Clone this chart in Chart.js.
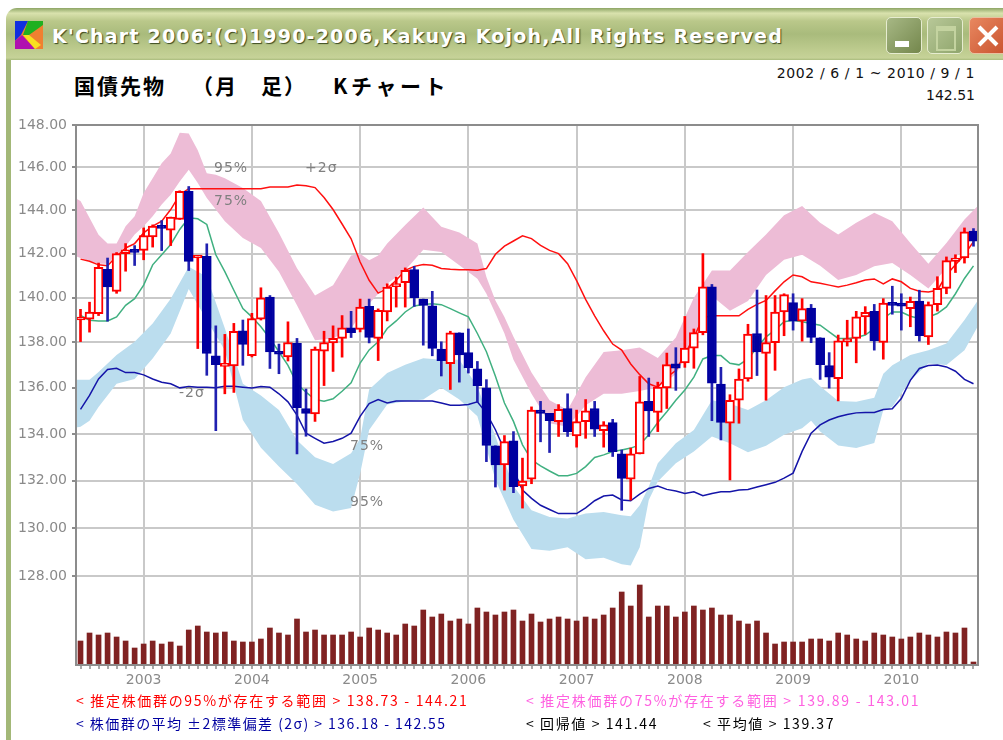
<!DOCTYPE html>
<html>
<head>
<meta charset="utf-8">
<title>K'Chart 2006</title>
<script src="https://cdn.jsdelivr.net/npm/chart.js@4"></script>
<style>
  html, body { margin: 0; padding: 0; background: #fff; }
  #page { position: relative; width: 1003px; height: 740px; overflow: hidden; font-family: "Noto Sans CJK JP", "Noto Sans", sans-serif; }
  #page div { position: absolute; white-space: pre; }
  #candleChart { position: absolute; left: 0; top: 0; }
  #bar { left: 6px; top: 8px; width: 997px; height: 52px; border-top-left-radius: 11px;
    background: linear-gradient(#8da565 0, #d9e2ad 10%, #bac88a 25%, #a9bb7c 50%, #bdcb8e 80%, #c6d298 96%, #a9bb7c 100%); }
  #side { left: 6px; top: 60px; width: 5px; height: 680px; background: #a3b878; }
  #bartext { left: 52px; top: 25px; font: bold 19px "DejaVu Sans", sans-serif; letter-spacing: 1.2px; color: #fff; text-shadow: 1px 1px 1px #3c4a20; }
  .btn { top: 17px; height: 35px; width: 34px; border: 1px solid #e6ecd0; border-radius: 5px; }
  #icon { left: 15px; top: 21px; }
  .head { top: 70px; font-weight: bold; font-size: 21px; letter-spacing: 2px; line-height: 30px; color: #000; }
  .range { right: 28px; font: 14px "DejaVu Sans", sans-serif; color: #111; }
  .note { font: 14px "DejaVu Sans", sans-serif; color: #808080; letter-spacing: 1px; }
  .legend { font-size: 14px; letter-spacing: 1.5px; line-height: 20px; }
</style>
</head>
<body>
<div id="page">
  <div id="bar"></div>
  <div id="side"></div>
  <svg id="icon" style="position:absolute" width="28" height="28" viewBox="0 0 28 28">
    <rect width="28" height="28" fill="#f08030"/>
    <polygon points="0,0 13,0 6,14 0,20" fill="#1030e0"/>
    <polygon points="13,0 28,0 28,4 14,14 8,14" fill="#20b020"/>
    <polygon points="0,20 7,14 20,28 0,28" fill="#b010b0"/>
    <polygon points="8,14 14,14 26,24 20,28" fill="#f8e020"/>
  </svg>
  <div id="bartext">K'Chart 2006:(C)1990-2006,Kakuya Kojoh,All Rights Reserved</div>
  <div class="btn" style="left:886px;background:linear-gradient(135deg,#a7b885,#74874c)"></div>
  <div style="left:895px;top:41px;width:14px;height:6px;background:#fff"></div>
  <div class="btn" style="left:927px;background:linear-gradient(135deg,#b8c898,#8fa56c)"></div>
  <div style="left:936px;top:26px;width:16px;height:18px;border:2px solid #c4d3a0;border-top-width:5px"></div>
  <div class="btn" style="left:969px;width:40px;border-color:#e8c0a0;background:linear-gradient(135deg,#e88860,#c8502c)"></div>
  <svg style="position:absolute;left:976px;top:24px" width="24" height="24"><path d="M3 3 L21 21 M21 3 L3 21" stroke="#fff" stroke-width="4"/></svg>

  <div class="head" style="left:74px">国債先物</div>
  <div class="head" style="left:192px">（月</div>
  <div class="head" style="left:261px">足）</div>
  <div class="head" style="left:333px;letter-spacing:3.6px">Kチャート</div>
  <div class="range" style="top:65px;letter-spacing:0.6px">2002 / 6 / 1 ~ 2010 / 9 / 1</div>
  <div class="range" style="top:87px">142.51</div>

  <canvas id="candleChart" width="1003" height="740"></canvas>

  <div class="note" style="left:214px;top:159px">95%</div>
  <div class="note" style="left:214px;top:192px">75%</div>
  <div class="note" style="left:305px;top:159px">+2σ</div>
  <div class="note" style="left:179px;top:384px">-2σ</div>
  <div class="note" style="left:350px;top:437px">75%</div>
  <div class="note" style="left:350px;top:493px">95%</div>

  <div class="legend" style="left:76px;top:690px;color:#ff0000;letter-spacing:1.68px">&lt; 推定株価群の95%が存在する範囲 &gt; 138.73 - 144.21</div>
  <div class="legend" style="left:526px;top:690px;color:#ff60e0;letter-spacing:1.73px">&lt; 推定株価群の75%が存在する範囲 &gt; 139.89 - 143.01</div>
  <div class="legend" style="left:76px;top:713px;color:#0000a0;letter-spacing:1.45px">&lt; 株価群の平均 ±2標準偏差 (2σ) &gt; 136.18 - 142.55</div>
  <div class="legend" style="left:526px;top:713px;color:#000;letter-spacing:1.6px">&lt; 回帰値 &gt; 141.44</div>
  <div class="legend" style="left:703px;top:713px;color:#000;letter-spacing:1.6px">&lt; 平均値 &gt; 139.37</div>
</div>

<script>
'use strict';

// 2002/6 から 2010/9 までの月足 (100本)
const months = [];
for (let y = 2002, m = 6; y < 2010 || m <= 9; m++) {
  if (m > 12) { y++; m = 1; }
  months.push(y + '/' + m);
}

const yTickValues = [148, 146, 144, 142, 140, 138, 136, 134, 132, 130, 128];

// ローソク足
const opens = [139.00,139.04,139.29,141.29,140.29,142.00,142.10,142.15,142.77,143.20,143.08,143.57,144.88,141.80,141.88,137.41,136.94,136.96,138.52,137.42,
  139.04,140.03,137.52,137.36,137.96,135.10,134.86,137.62,137.98,138.18,138.65,138.58,139.61,138.18,139.36,140.50,140.68,141.27,139.94,139.64,
  137.71,137.06,138.43,137.55,136.84,136.00,133.49,132.67,133.70,131.78,132.06,135.03,134.89,134.53,135.10,133.91,134.53,135.10,134.14,134.49,
  133.14,132.06,133.14,135.41,134.93,136.00,137.05,137.09,137.75,138.44,140.49,136.17,134.46,135.46,136.39,138.40,137.52,137.99,139.36,139.78,
  138.95,139.54,138.21,136.98,136.40,138.04,138.18,139.14,139.39,138.00,139.72,139.75,139.51,139.85,138.25,139.69,140.42,141.65,141.80,143.03];
const closes = [139.05,139.36,141.38,140.49,142.00,142.18,142.06,142.83,143.26,143.16,143.68,144.88,141.65,141.85,137.51,137.02,136.98,138.50,137.91,139.07,
  140.00,137.58,137.48,138.00,135.14,134.89,137.71,138.00,138.18,138.65,138.44,139.58,138.22,139.43,140.48,140.63,141.24,140.00,139.65,137.74,
  137.19,138.43,137.45,136.87,136.10,133.50,132.67,133.67,131.74,131.98,135.03,134.89,134.57,135.06,134.10,134.53,135.00,134.20,134.39,133.24,
  132.10,133.14,135.39,134.99,136.03,137.02,136.86,137.75,138.44,140.49,136.21,134.50,135.46,136.39,138.37,137.58,137.99,139.36,140.14,138.95,
  139.51,138.22,137.02,136.47,138.07,138.15,139.14,139.35,138.07,139.76,139.66,139.62,139.84,138.30,139.69,140.42,141.68,141.80,143.00,142.57];
const highs = [139.48,139.80,141.57,141.80,142.05,142.46,142.37,143.18,143.32,143.52,143.68,144.90,145.10,141.90,142.45,138.74,138.36,138.85,139.00,139.30,
  140.45,140.10,137.93,138.92,138.18,135.95,137.80,138.50,138.74,139.20,139.39,139.94,139.94,139.50,140.63,140.93,141.35,141.42,139.94,140.29,
  138.03,138.50,138.43,138.60,137.16,136.36,133.49,133.93,134.10,132.96,135.17,135.41,134.89,135.27,135.74,135.03,135.49,135.41,134.53,134.63,
  133.31,133.39,136.50,136.43,136.25,137.53,137.77,139.16,138.60,142.00,140.60,136.90,135.70,136.83,138.81,140.35,140.10,140.10,140.18,140.18,
  139.96,139.70,138.21,137.55,138.33,138.99,139.39,139.60,139.70,139.96,140.52,140.18,140.03,140.34,139.81,140.95,141.85,141.95,143.18,143.15];
const lows = [138.04,138.46,139.20,138.95,140.20,141.20,141.46,141.72,142.30,142.14,142.37,143.57,141.23,137.73,136.55,134.14,135.74,135.80,136.99,137.36,
  139.00,136.85,136.62,137.18,133.14,133.90,134.54,136.10,136.72,137.35,138.22,138.47,137.98,137.20,138.96,139.58,139.58,139.61,137.88,137.41,
  136.52,135.93,136.25,136.65,135.37,132.81,131.73,131.60,131.49,130.84,131.87,133.66,133.20,133.89,133.89,133.43,133.81,133.89,133.43,133.03,
  130.75,131.18,133.14,133.89,134.10,135.10,135.89,136.90,136.86,138.34,134.57,133.74,132.03,134.46,136.29,136.54,135.46,136.77,138.30,138.55,
  138.06,137.99,136.37,135.99,135.43,137.84,137.10,138.36,137.66,137.26,139.26,138.55,138.70,138.06,137.91,139.40,140.18,141.14,141.57,142.34];

// 回帰値 (緑)
const regression = [139.21,138.99,138.96,138.96,139.14,139.66,139.96,140.57,141.49,141.95,142.42,143.11,143.65,143.60,143.34,141.95,141.18,140.34,139.51,139.14,
  138.70,138.18,137.59,136.99,136.18,135.81,135.49,135.42,135.52,135.85,136.22,137.09,137.67,138.03,138.62,138.96,139.36,139.63,139.70,139.73,
  139.69,139.51,139.32,139.14,138.40,137.59,136.51,135.34,134.54,133.53,132.89,132.63,132.41,132.21,132.21,132.31,132.60,132.99,133.10,133.24,
  133.31,133.39,133.53,133.96,134.49,134.96,135.46,135.91,136.47,137.27,137.42,137.42,137.08,137.01,137.27,137.78,138.25,138.55,138.92,138.99,
  138.92,138.84,138.77,138.47,138.18,138.18,138.22,138.33,138.62,139.07,139.36,139.36,139.17,139.07,139.14,139.29,139.59,140.18,140.87,141.44];
// +2σ (赤)
const upperSigma = [141.75,141.65,141.49,141.45,141.88,142.26,142.46,142.95,143.26,143.49,144.03,144.72,145.00,145.00,145.00,145.00,145.00,145.00,145.00,145.00,
  145.00,145.08,145.08,145.08,145.17,145.14,145.05,144.59,144.03,143.36,142.68,141.62,140.79,140.21,140.41,140.79,141.24,141.42,141.50,141.47,
  141.32,141.29,141.27,141.27,141.24,141.32,141.97,142.34,142.58,142.82,142.69,142.38,142.15,142.00,141.54,140.77,139.93,139.19,138.52,137.93,
  137.66,137.05,136.58,136.18,136.03,136.47,136.76,137.49,138.22,139.11,139.19,139.19,139.19,139.19,139.48,139.70,139.88,140.31,140.72,141.03,
  140.95,140.72,140.65,140.57,140.49,140.57,140.68,140.80,140.85,140.62,140.85,140.72,140.42,140.29,140.26,140.34,141.03,141.49,141.95,142.55];
// -2σ (紺)
const lowerSigma = [135.06,135.67,136.39,136.81,136.86,136.67,136.67,136.57,136.39,136.25,136.18,136.00,136.06,136.03,136.03,136.00,136.07,136.07,136.03,135.99,
  136.06,136.03,135.74,135.39,134.81,134.03,133.81,133.60,133.67,133.81,134.03,134.76,135.31,135.49,135.34,135.43,135.43,135.43,135.43,135.43,
  135.34,135.24,135.24,135.27,135.39,134.90,134.18,133.31,132.46,131.60,131.25,130.96,130.78,130.61,130.61,130.61,130.85,131.15,131.35,131.39,
  131.18,131.15,131.43,131.67,131.77,131.63,131.56,131.46,131.53,131.36,131.46,131.53,131.53,131.60,131.63,131.73,131.83,131.93,132.11,132.32,
  133.25,134.03,134.39,134.60,134.74,134.84,134.91,134.93,134.93,135.06,135.09,135.53,136.33,136.85,136.98,137.00,136.92,136.73,136.37,136.18];

// 帯 (読み取った月の位置と上下の値)
const pinkMonths = [-0.5,0,2,3,4,5,6,7,8,9,10,11,12,13,14,15,16,18,20,22,24,26,28,30,31,32,33,34,36,38,40,42,44,45,46,47,48,50,52,54,56,58,60,62,64,66,68,70,72,74,76,78,80,82,84,86,88,90,92,94,96,98,99.5];
const pink95 = [144.54,144.42,142.87,142.46,142.46,143.26,143.72,144.80,145.49,146.19,146.65,147.63,147.59,146.80,145.72,145.65,145.49,145.03,144.42,142.95,141.34,140.10,140.56,141.92,142.00,141.70,141.92,142.46,143.31,144.12,143.23,142.97,142.46,140.94,139.88,139.13,138.25,136.67,135.46,135.03,136.47,137.58,137.66,137.78,137.31,138.22,140.00,141.23,141.23,142.08,142.88,143.77,144.19,143.42,142.88,143.42,143.88,143.49,142.49,141.54,142.49,143.57,144.21];
const pink75 = [141.88,141.80,141.54,141.54,141.95,142.34,142.88,143.26,143.72,144.26,144.72,145.34,145.88,145.27,144.57,144.03,143.49,142.72,142.26,141.18,139.66,138.10,138.18,138.62,139.21,139.73,140.18,140.63,141.24,142.18,142.08,141.47,140.86,140.18,139.29,138.40,137.23,135.74,134.46,134.31,135.24,135.74,135.74,135.86,136.03,136.60,138.07,140.08,139.41,139.85,141.03,141.72,141.95,141.45,140.80,141.03,141.42,141.57,141.03,140.42,141.34,142.30,143.01];
const blueMonths = [-0.5,0,1,2,4,6,8,10,12,14,16,18,20,22,24,26,28,30,31,32,34,36,38,40,42,44,46,48,50,52,54,56,58,60,61,62,63,64,66,68,70,72,74,76,78,80,81,82,84,86,88,89,90,92,94,96,98,99.5];
const blue75 = [136.36,136.36,136.36,136.70,137.44,138.03,138.85,139.95,141.40,140.95,138.63,136.18,135.67,135.03,133.73,133.00,132.71,133.17,133.80,135.93,136.65,137.01,137.30,137.23,137.23,136.07,133.89,131.77,130.75,130.47,130.40,130.61,130.68,130.54,130.50,130.96,131.74,132.74,133.60,134.17,135.46,135.31,135.03,135.46,136.03,136.37,136.44,136.07,135.43,135.39,135.57,136.62,136.99,137.44,137.66,137.96,139.00,139.89];
const blue95 = [134.28,134.31,134.57,135.16,136.18,136.39,137.29,138.40,140.40,138.99,137.66,134.60,133.40,132.60,131.86,130.98,130.70,130.84,132.30,134.17,135.27,135.42,135.49,136.00,135.49,134.76,132.03,130.35,129.13,129.06,129.20,128.70,128.77,128.50,128.45,129.20,131.18,131.96,132.74,133.24,133.89,133.60,133.21,133.49,133.96,134.24,134.57,134.10,133.50,133.39,133.61,135.03,135.17,136.33,137.07,137.00,137.66,138.73];

// 出来高 (単位不明)
const volumes = [24,32,30,32,28,24,17,21,24,21,23,19,35,39,33,32,33,24,23,23,26,37,32,30,46,33,35,30,30,30,33,28,37,35,32,30,41,39,55,48,
  51,44,46,41,57,53,50,53,55,44,51,43,46,48,46,44,48,46,50,57,73,59,80,48,59,59,48,53,59,55,57,50,50,44,41,44,32,21,23,23,
  23,26,26,24,32,30,26,24,32,30,28,26,28,32,30,28,33,32,37,3];

const RED = '#ff0000';
const NAVY = '#0000a0';
const GRID = '#c9c9c9';
const AXIS = '#8c8c8c';
const TICK = '#8a8a8a';

function xy(xs, ys) {
  return xs.map(function(x, i) { return { x: x, y: ys[i] }; });
}
function isUp(i) { return closes[i] >= opens[i]; }

function lineSet(data, color) {
  return { type: 'line', data: data, xAxisID: 'x', yAxisID: 'y', borderColor: color, borderWidth: 1.5, pointRadius: 0, fill: false, tension: 0 };
}
function bandSet(data, color, fill) {
  return { type: 'line', data: data, xAxisID: 'xBand', yAxisID: 'y', borderWidth: 0, borderColor: 'transparent', backgroundColor: color, pointRadius: 0, fill: fill, tension: 0 };
}

// 枠線
const framePlugin = {
  id: 'frame',
  afterDraw: function(chart) {
    const a = chart.chartArea;
    const c = chart.ctx;
    c.save();
    c.strokeStyle = AXIS;
    c.lineWidth = 2;
    c.strokeRect(a.left, a.top, a.right - a.left, a.bottom - a.top);
    c.restore();
  }
};

new Chart(document.querySelector('#candleChart').getContext('2d'), {
  type: 'bar',
  data: {
    labels: months,
    datasets: [
      {
        data: opens.map(function(o, i) { return [o, closes[i]]; }),
        yAxisID: 'y', grouped: false, barThickness: 9, minBarLength: 3, borderWidth: 2, borderSkipped: false,
        borderColor: months.map(function(m, i) { return isUp(i) ? RED : NAVY; }),
        backgroundColor: months.map(function(m, i) { return isUp(i) ? '#ffffff' : NAVY; })
      },
      {
        data: lows.map(function(l, i) { return [l, highs[i]]; }),
        yAxisID: 'y', grouped: false, barThickness: 2, borderWidth: 0,
        backgroundColor: months.map(function(m, i) { return isUp(i) ? RED : '#2020b0'; })
      },
      lineSet(upperSigma, '#ff1010'),
      lineSet(lowerSigma, '#1414a8'),
      lineSet(regression, '#40b080'),
      bandSet(xy(pinkMonths, pink95), '#edbcd6', '+1'),
      bandSet(xy(pinkMonths, pink75), '#edbcd6', false),
      bandSet(xy(blueMonths, blue75), '#bbddee', '+1'),
      bandSet(xy(blueMonths, blue95), '#bbddee', false),
      { data: volumes, yAxisID: 'yVolume', grouped: false, barThickness: 5, backgroundColor: '#802222' }
    ]
  },
  plugins: [framePlugin],
  options: {
    responsive: false,
    animation: false,
    layout: { padding: { left: 0, right: 25, top: 125, bottom: 45 } },
    plugins: { legend: { display: false }, tooltip: { enabled: false } },
    scales: {
      x: {
        type: 'category',
        offset: true,
        border: { display: false },
        grid: {
          offset: false,
          color: function(ctx) { return months[ctx.index] && months[ctx.index].endsWith('/1') ? GRID : 'transparent'; },
          lineWidth: 2,
          tickColor: AXIS,
          tickLength: 4,
          tickWidth: 1.5
        },
        ticks: {
          autoSkip: false,
          maxRotation: 0,
          padding: 3,
          color: TICK,
          font: { family: 'DejaVu Sans', size: 14 },
          callback: function(v, i) { return months[i].endsWith('/1') ? months[i].split('/')[0] : ''; }
        },
        afterFit: function(s) { s.height = 30; }
      },
      xBand: { type: 'linear', display: false, offset: false, min: -0.5, max: 99.5 },
      y: {
        type: 'logarithmic',
        min: 124.4,
        max: 148,
        border: { display: false },
        afterBuildTicks: function(s) { s.ticks = yTickValues.map(function(v) { return { value: v }; }); },
        grid: { color: GRID, lineWidth: 2, tickColor: AXIS, tickLength: 4 },
        ticks: {
          autoSkip: false,
          padding: 5,
          color: TICK,
          font: { family: 'DejaVu Sans', size: 14 },
          callback: function(v) { return Number(v).toFixed(2); }
        },
        afterFit: function(s) { s.width = 76; }
      },
      yVolume: { type: 'linear', display: false, min: 0, max: 540 }
    }
  }
});
</script>
</body>
</html>
